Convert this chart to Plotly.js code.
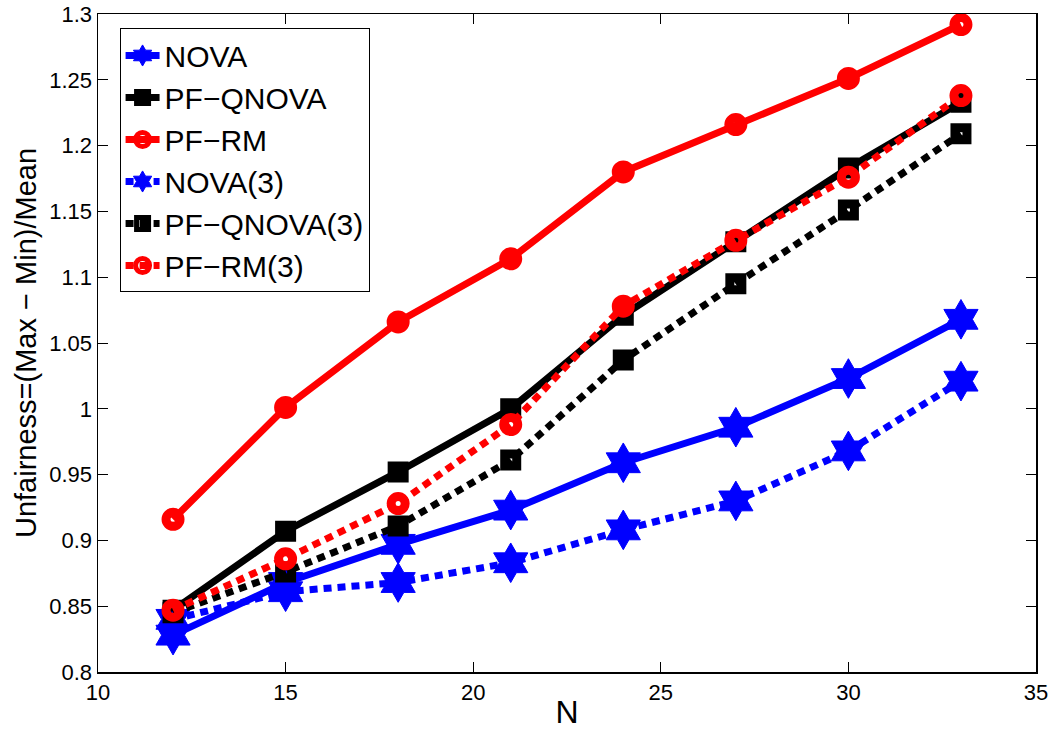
<!DOCTYPE html>
<html><head><meta charset="utf-8">
<script src="https://cdn.plot.ly/plotly-3.0.1.min.js"></script>
<style>html,body{margin:0;padding:0;background:#fff}#plot{width:1050px;height:730px}</style>
</head><body><div id="plot"></div>
<script>
const N = [12, 15, 18, 21, 24, 27, 30, 33];
const nova = [0.828, 0.868, 0.897, 0.923, 0.959, 0.986, 1.023, 1.068];
const pfQnova = [0.847, 0.907, 0.952, 1.000, 1.071, 1.127, 1.183, 1.233];
const pfRm = [0.916, 1.001, 1.066, 1.114, 1.180, 1.216, 1.251, 1.292];
const nova3 = [0.840, 0.861, 0.868, 0.883, 0.908, 0.930, 0.968, 1.021];
const pfQnova3 = [0.845, 0.876, 0.911, 0.961, 1.037, 1.095, 1.151, 1.209];
const pfRm3 = [0.847, 0.886, 0.928, 0.988, 1.078, 1.128, 1.176, 1.238];
const names = ['NOVA', 'PF\u2212QNOVA', 'PF\u2212RM', 'NOVA(3)', 'PF\u2212QNOVA(3)', 'PF\u2212RM(3)'];
const yTicks = [0.8, 0.85, 0.9, 0.95, 1, 1.05, 1.1, 1.15, 1.2, 1.25, 1.3];
const yTickText = ['0.8', '0.85', '0.9', '0.95', '1', '1.05', '1.1', '1.15', '1.2', '1.25', '1.3'];
const xTicks = [10, 15, 20, 25, 30, 35];

const dotDash = '8px,6px';
function tr(y, name, color, dash, symbol, size, mlw) {
  return {
    x: N, y: y, name: name, type: 'scatter', mode: 'lines+markers',
    line: {color: color, width: 7, dash: dash},
    marker: {symbol: symbol, size: size, color: color, line: {color: color, width: mlw}}
  };
}
const data = [
  tr(nova, names[0], '#0000ff', 'solid', 'hexagram', 30, 1),
  tr(pfQnova, names[1], '#000000', 'solid', 'square-open', 12, 9),
  tr(pfRm, names[2], '#ff0000', 'solid', 'circle-open', 14, 9),
  tr(nova3, names[3], '#0000ff', dotDash, 'hexagram', 30, 1),
  tr(pfQnova3, names[4], '#000000', dotDash, 'square-open', 12, 9),
  tr(pfRm3, names[5], '#ff0000', dotDash, 'circle-open', 14, 9)
];
const layout = {
  width: 1050, height: 730,
  margin: {l: 98, r: 14, t: 14, b: 58},
  paper_bgcolor: '#fff', plot_bgcolor: '#fff',
  font: {family: 'Liberation Sans, Arial, sans-serif', color: '#000'},
  showlegend: true,
  legend: {
    x: 0.023, y: 0.978, xanchor: 'left', yanchor: 'top',
    bgcolor: '#fff', bordercolor: '#000', borderwidth: 1,
    font: {size: 30, family: 'Liberation Sans, Arial, sans-serif', color: '#000'},
    itemwidth: 34, tracegroupgap: 0
  },
  xaxis: {
    range: [10, 35], tickvals: xTicks,
    ticks: 'inside', ticklen: 10, tickcolor: '#000', tickwidth: 1,
    showline: true, linecolor: '#000', linewidth: 1.5, mirror: 'ticks',
    showgrid: false, zeroline: false,
    tickfont: {size: 22},
    title: {text: 'N', font: {size: 32}, standoff: 4}
  },
  yaxis: {
    range: [0.8, 1.3], tickvals: yTicks, ticktext: yTickText,
    ticks: 'inside', ticklen: 10, tickcolor: '#000', tickwidth: 1,
    showline: true, linecolor: '#000', linewidth: 1.5, mirror: 'ticks',
    showgrid: false, zeroline: false, ticklabeloverflow: 'allow',
    tickfont: {size: 22},
    title: {text: 'Unfairness=(Max \u2212 Min)/Mean', font: {size: 29}, standoff: 4}
  }
};
Plotly.newPlot('plot', data, layout, {displayModeBar: false, staticPlot: true});
</script></body></html>
